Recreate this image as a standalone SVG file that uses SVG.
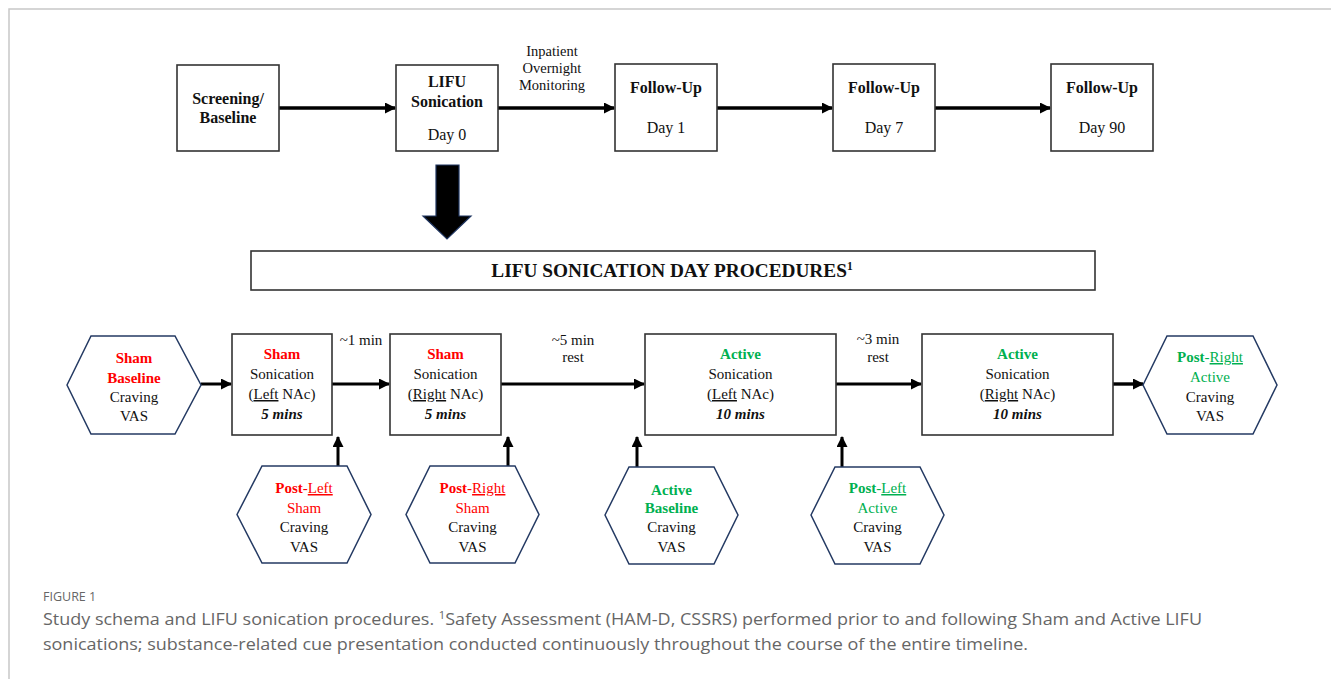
<svg xmlns="http://www.w3.org/2000/svg" width="1331" height="679" viewBox="0 0 1331 679">
<style>
.t{font-family:"Liberation Serif","Times New Roman",serif;fill:#111;text-anchor:middle}
.b{font-weight:bold}
.bi{font-weight:bold;font-style:italic}
.s16{font-size:16px}
.s15{font-size:15px}
.s13{font-size:14.5px}
.red{fill:#ff0000}
.grn{fill:#00b050}
.u{text-decoration:underline}
.box{fill:#fff;stroke:#333;stroke-width:1.6}
.hex{fill:#fff;stroke:#243a63;stroke-width:1.5}
.ln{stroke:#000;fill:none}
.cap{font-family:"Open Sans","Noto Sans",sans-serif;fill:#666}
</style>
<defs>
<marker id="ah" markerUnits="userSpaceOnUse" markerWidth="11" markerHeight="11" refX="10" refY="5.5" orient="auto">
<path d="M0,0 L11,5.5 L0,11 z" fill="#000"/>
</marker>
</defs>
<rect width="1331" height="679" fill="#fff"/>
<path d="M9,679 V9 H1331" fill="none" stroke="#c8c8c8" stroke-width="1.5"/>

<g id="connectors">
<line class="ln" x1="279" y1="108" x2="395" y2="108" stroke-width="3.4" marker-end="url(#ah)"/>
<line class="ln" x1="498" y1="108" x2="614" y2="108" stroke-width="3.4" marker-end="url(#ah)"/>
<line class="ln" x1="717" y1="108" x2="832" y2="108" stroke-width="3.4" marker-end="url(#ah)"/>
<line class="ln" x1="935" y1="108" x2="1050" y2="108" stroke-width="3.4" marker-end="url(#ah)"/>
<line class="ln" x1="201" y1="384" x2="231" y2="384" stroke-width="3" marker-end="url(#ah)"/>
<line class="ln" x1="332" y1="384" x2="389" y2="384" stroke-width="3" marker-end="url(#ah)"/>
<line class="ln" x1="501" y1="384" x2="644" y2="384" stroke-width="3" marker-end="url(#ah)"/>
<line class="ln" x1="836" y1="384" x2="921" y2="384" stroke-width="3" marker-end="url(#ah)"/>
<line class="ln" x1="1113" y1="384" x2="1143" y2="384" stroke-width="3.4" marker-end="url(#ah)"/>
<line class="ln" x1="338" y1="466" x2="338" y2="437" stroke-width="3" marker-end="url(#ah)"/>
<line class="ln" x1="508" y1="466" x2="508" y2="437" stroke-width="3" marker-end="url(#ah)"/>
<line class="ln" x1="637" y1="467" x2="637" y2="437" stroke-width="3" marker-end="url(#ah)"/>
<line class="ln" x1="842" y1="467" x2="842" y2="437" stroke-width="3" marker-end="url(#ah)"/>
<path id="bigArrow" d="M436,165 H459 V216 H471 L447,239 L423,216 H436 Z" fill="#000" stroke="#1f3560" stroke-width="1.2"/>
<text class="t s13" x="552" y="56">Inpatient</text>
<text class="t s13" x="552" y="73">Overnight</text>
<text class="t s13" x="552" y="90">Monitoring</text>
<text class="t s15" x="361" y="345">~1 min</text>
<text class="t s15" x="573" y="345">~5 min</text>
<text class="t s15" x="573" y="362">rest</text>
<text class="t s15" x="878" y="344">~3 min</text>
<text class="t s15" x="878" y="362">rest</text>
</g>

<g id="n-screening">
<rect class="box" x="177" y="65" width="102" height="86"/>
<text class="t s16 b" x="228" y="104">Screening/</text>
<text class="t s16 b" x="228" y="123">Baseline</text>
</g>
<g id="n-lifu">
<rect class="box" x="396" y="65" width="102" height="86"/>
<text class="t s16 b" x="447" y="87">LIFU</text>
<text class="t s16 b" x="447" y="107">Sonication</text>
<text class="t s16" x="447" y="140">Day 0</text>
</g>
<g id="n-day1">
<rect class="box" x="615" y="64" width="102" height="87"/>
<text class="t s16 b" x="666" y="93">Follow-Up</text>
<text class="t s16" x="666" y="133">Day 1</text>
</g>
<g id="n-day7">
<rect class="box" x="833" y="64" width="102" height="87"/>
<text class="t s16 b" x="884" y="93">Follow-Up</text>
<text class="t s16" x="884" y="133">Day 7</text>
</g>
<g id="n-day90">
<rect class="box" x="1051" y="64" width="102" height="87"/>
<text class="t s16 b" x="1102" y="93">Follow-Up</text>
<text class="t s16" x="1102" y="133">Day 90</text>
</g>

<g id="n-title">
<rect class="box" x="251" y="251" width="844" height="39"/>
<text class="t b" style="font-size:19.3px" x="672" y="277">LIFU SONICATION DAY PROCEDURES<tspan style="font-size:11.5px" dy="-7">1</tspan></text>
</g>

<g id="n-sham-baseline">
<path class="hex" d="M67,385 L91,336 H175 L201,385 L175,434 H91 Z"/>
<text class="t s15 b red" x="134" y="363">Sham</text>
<text class="t s15 b red" x="134" y="383">Baseline</text>
<text class="t s15" x="134" y="402">Craving</text>
<text class="t s15" x="134" y="421">VAS</text>
</g>
<g id="n-sham-left">
<rect class="box" x="232" y="334" width="100" height="101"/>
<text class="t s15 b red" x="282" y="359">Sham</text>
<text class="t s15" x="282" y="379">Sonication</text>
<text class="t s15" x="282" y="399">(<tspan class="u">Left</tspan> NAc)</text>
<text class="t s15 bi" x="282" y="419">5 mins</text>
</g>
<g id="n-sham-right">
<rect class="box" x="390" y="334" width="111" height="101"/>
<text class="t s15 b red" x="445.5" y="359">Sham</text>
<text class="t s15" x="445.5" y="379">Sonication</text>
<text class="t s15" x="445.5" y="399">(<tspan class="u">Right</tspan> NAc)</text>
<text class="t s15 bi" x="445.5" y="419">5 mins</text>
</g>
<g id="n-active-left">
<rect class="box" x="645" y="334" width="191" height="101"/>
<text class="t s15 b grn" x="740.5" y="359">Active</text>
<text class="t s15" x="740.5" y="379">Sonication</text>
<text class="t s15" x="740.5" y="399">(<tspan class="u">Left</tspan> NAc)</text>
<text class="t s15 bi" x="740.5" y="419">10 mins</text>
</g>
<g id="n-active-right">
<rect class="box" x="922" y="334" width="191" height="101"/>
<text class="t s15 b grn" x="1017.5" y="359">Active</text>
<text class="t s15" x="1017.5" y="379">Sonication</text>
<text class="t s15" x="1017.5" y="399">(<tspan class="u">Right</tspan> NAc)</text>
<text class="t s15 bi" x="1017.5" y="419">10 mins</text>
</g>
<g id="n-post-right-active">
<path class="hex" d="M1143,385 L1167,336 H1253 L1277,385 L1253,434 H1167 Z"/>
<text class="t s15 grn" x="1210" y="362"><tspan class="b">Post</tspan>-<tspan class="u">Right</tspan></text>
<text class="t s15 grn" x="1210" y="382">Active</text>
<text class="t s15" x="1210" y="402">Craving</text>
<text class="t s15" x="1210" y="421">VAS</text>
</g>
<g id="n-post-left-sham">
<path class="hex" d="M237,514.5 L262,466 H347 L371,514.5 L347,563 H262 Z"/>
<text class="t s15 red" x="304" y="493"><tspan class="b">Post</tspan>-<tspan class="u">Left</tspan></text>
<text class="t s15 red" x="304" y="513">Sham</text>
<text class="t s15" x="304" y="532">Craving</text>
<text class="t s15" x="304" y="552">VAS</text>
</g>
<g id="n-post-right-sham">
<path class="hex" d="M406,514.5 L430,466 H515 L539,514.5 L515,563 H430 Z"/>
<text class="t s15 red" x="472.5" y="493"><tspan class="b">Post</tspan>-<tspan class="u">Right</tspan></text>
<text class="t s15 red" x="472.5" y="513">Sham</text>
<text class="t s15" x="472.5" y="532">Craving</text>
<text class="t s15" x="472.5" y="552">VAS</text>
</g>
<g id="n-active-baseline">
<path class="hex" d="M605,515 L629,467 H714 L738,515 L714,564 H629 Z"/>
<text class="t s15 b grn" x="671.5" y="495">Active</text>
<text class="t s15 b grn" x="671.5" y="513">Baseline</text>
<text class="t s15" x="671.5" y="532">Craving</text>
<text class="t s15" x="671.5" y="552">VAS</text>
</g>
<g id="n-post-left-active">
<path class="hex" d="M811,515 L835,467 H920 L944,515 L920,564 H835 Z"/>
<text class="t s15 grn" x="877.5" y="493"><tspan class="b">Post</tspan>-<tspan class="u">Left</tspan></text>
<text class="t s15 grn" x="877.5" y="513">Active</text>
<text class="t s15" x="877.5" y="532">Craving</text>
<text class="t s15" x="877.5" y="552">VAS</text>
</g>

<g id="caption">
<text class="cap" x="43" y="601" style="font-size:12.5px">FIGURE 1</text>
<text class="cap" x="43" y="625" style="font-size:16px" textLength="1159" lengthAdjust="spacingAndGlyphs">Study schema and LIFU sonication procedures. <tspan style="font-size:10px" dy="-6">1</tspan><tspan dy="6">Safety Assessment (HAM-D, CSSRS) performed prior to and following Sham and Active LIFU</tspan></text>
<text class="cap" x="43" y="650" style="font-size:16px" textLength="985" lengthAdjust="spacingAndGlyphs">sonications; substance-related cue presentation conducted continuously throughout the course of the entire timeline.</text>
</g>
</svg>
